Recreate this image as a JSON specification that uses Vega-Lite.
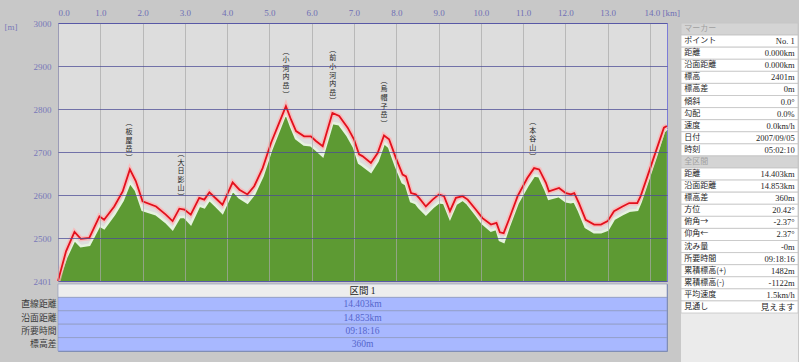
{
  "$schema": "https://vega.github.io/schema/vega-lite/v6.json",
  "padding": {"left": 3, "top": 0, "right": 0, "bottom": 0},
  "background": "#c8c8c8",
  "config": {"font": "Liberation Sans", "concat": {"spacing": 0}},
  "datasets": {
    "profile": [
      {"km": 0.00, "track": 2401, "terrain": 2401},
      {"km": 0.19, "track": 2470, "terrain": 2455},
      {"km": 0.39, "track": 2515, "terrain": 2497},
      {"km": 0.54, "track": 2499, "terrain": 2482},
      {"km": 0.74, "track": 2501, "terrain": 2485},
      {"km": 0.98, "track": 2551, "terrain": 2530},
      {"km": 1.09, "track": 2543, "terrain": 2524},
      {"km": 1.33, "track": 2574, "terrain": 2556},
      {"km": 1.53, "track": 2609, "terrain": 2588},
      {"km": 1.70, "track": 2660, "terrain": 2630},
      {"km": 1.84, "track": 2633, "terrain": 2612},
      {"km": 2.00, "track": 2586, "terrain": 2566},
      {"km": 2.32, "track": 2574, "terrain": 2556},
      {"km": 2.55, "track": 2555, "terrain": 2538},
      {"km": 2.71, "track": 2540, "terrain": 2522},
      {"km": 2.87, "track": 2569, "terrain": 2549},
      {"km": 2.99, "track": 2567, "terrain": 2550},
      {"km": 3.14, "track": 2555, "terrain": 2534},
      {"km": 3.34, "track": 2594, "terrain": 2576},
      {"km": 3.46, "track": 2590, "terrain": 2572},
      {"km": 3.58, "track": 2607, "terrain": 2590},
      {"km": 3.74, "track": 2592, "terrain": 2575},
      {"km": 3.89, "track": 2578, "terrain": 2560},
      {"km": 4.13, "track": 2630, "terrain": 2612},
      {"km": 4.29, "track": 2613, "terrain": 2595},
      {"km": 4.48, "track": 2602, "terrain": 2583},
      {"km": 4.64, "track": 2621, "terrain": 2603},
      {"km": 4.84, "track": 2663, "terrain": 2645},
      {"km": 5.04, "track": 2722, "terrain": 2705},
      {"km": 5.23, "track": 2768, "terrain": 2752},
      {"km": 5.39, "track": 2807, "terrain": 2792},
      {"km": 5.51, "track": 2776, "terrain": 2760},
      {"km": 5.63, "track": 2749, "terrain": 2732},
      {"km": 5.82, "track": 2737, "terrain": 2718},
      {"km": 5.98, "track": 2737, "terrain": 2716},
      {"km": 6.10, "track": 2726, "terrain": 2706},
      {"km": 6.26, "track": 2714, "terrain": 2692},
      {"km": 6.49, "track": 2791, "terrain": 2768},
      {"km": 6.65, "track": 2784, "terrain": 2765},
      {"km": 6.85, "track": 2757, "terrain": 2738},
      {"km": 7.00, "track": 2730, "terrain": 2712},
      {"km": 7.12, "track": 2695, "terrain": 2675},
      {"km": 7.20, "track": 2691, "terrain": 2670},
      {"km": 7.40, "track": 2675, "terrain": 2655},
      {"km": 7.56, "track": 2698, "terrain": 2680},
      {"km": 7.71, "track": 2739, "terrain": 2722},
      {"km": 7.83, "track": 2730, "terrain": 2712},
      {"km": 7.99, "track": 2687, "terrain": 2668},
      {"km": 8.15, "track": 2648, "terrain": 2630},
      {"km": 8.23, "track": 2644, "terrain": 2625},
      {"km": 8.35, "track": 2605, "terrain": 2586},
      {"km": 8.46, "track": 2602, "terrain": 2582},
      {"km": 8.54, "track": 2594, "terrain": 2572},
      {"km": 8.70, "track": 2574, "terrain": 2556},
      {"km": 8.86, "track": 2590, "terrain": 2572},
      {"km": 9.01, "track": 2602, "terrain": 2584},
      {"km": 9.13, "track": 2598, "terrain": 2582},
      {"km": 9.27, "track": 2563, "terrain": 2548},
      {"km": 9.41, "track": 2594, "terrain": 2580},
      {"km": 9.57, "track": 2598, "terrain": 2590},
      {"km": 9.69, "track": 2590, "terrain": 2580},
      {"km": 9.88, "track": 2567, "terrain": 2556},
      {"km": 10.04, "track": 2547, "terrain": 2535},
      {"km": 10.24, "track": 2532, "terrain": 2518},
      {"km": 10.37, "track": 2536, "terrain": 2522},
      {"km": 10.45, "track": 2514, "terrain": 2496},
      {"km": 10.54, "track": 2512, "terrain": 2492},
      {"km": 10.67, "track": 2545, "terrain": 2530},
      {"km": 10.87, "track": 2598, "terrain": 2582},
      {"km": 11.10, "track": 2640, "terrain": 2622},
      {"km": 11.26, "track": 2663, "terrain": 2646},
      {"km": 11.38, "track": 2660, "terrain": 2644},
      {"km": 11.54, "track": 2629, "terrain": 2610},
      {"km": 11.61, "track": 2609, "terrain": 2592},
      {"km": 11.85, "track": 2617, "terrain": 2598},
      {"km": 12.01, "track": 2605, "terrain": 2586},
      {"km": 12.13, "track": 2602, "terrain": 2584},
      {"km": 12.21, "track": 2605, "terrain": 2586},
      {"km": 12.32, "track": 2582, "terrain": 2564},
      {"km": 12.48, "track": 2543, "terrain": 2526},
      {"km": 12.68, "track": 2532, "terrain": 2514},
      {"km": 12.84, "track": 2532, "terrain": 2514},
      {"km": 13.00, "track": 2540, "terrain": 2520},
      {"km": 13.15, "track": 2563, "terrain": 2545},
      {"km": 13.35, "track": 2574, "terrain": 2556},
      {"km": 13.51, "track": 2582, "terrain": 2564},
      {"km": 13.70, "track": 2582, "terrain": 2566},
      {"km": 13.78, "track": 2598, "terrain": 2585},
      {"km": 13.94, "track": 2644, "terrain": 2632},
      {"km": 14.14, "track": 2702, "terrain": 2690},
      {"km": 14.33, "track": 2757, "terrain": 2748},
      {"km": 14.40, "track": 2761, "terrain": 2755}
    ],
    "peaks": [
      {"km": 1.68, "elev": 2660, "name": ["︵", "板", "屋", "岳", "︶"]},
      {"km": 2.91, "elev": 2569, "name": ["︵", "大", "日", "影", "山", "︶"]},
      {"km": 5.39, "elev": 2807, "name": ["︵", "小", "河", "内", "岳", "︶"]},
      {"km": 6.50, "elev": 2791, "name": ["︵", "前", "小", "河", "内", "岳", "︶"]},
      {"km": 7.71, "elev": 2739, "name": ["︵", "烏", "帽", "子", "岳", "︶"]},
      {"km": 11.23, "elev": 2663, "name": ["︵", "本", "谷", "山", "︶"]}
    ],
    "section": [
      {"label": "", "value": "区間 1", "kind": "header"},
      {"label": "直線距離", "value": "14.403km", "kind": "row"},
      {"label": "沿面距離", "value": "14.853km", "kind": "row"},
      {"label": "所要時間", "value": "09:18:16", "kind": "row"},
      {"label": "標高差", "value": "360m", "kind": "row"}
    ],
    "panel": [
      {"i": 0, "k": "マーカー", "v": "", "kind": "header"},
      {"i": 1, "k": "ポイント", "v": "No. 1", "kind": "row"},
      {"i": 2, "k": "距離", "v": "0.000km", "kind": "row"},
      {"i": 3, "k": "沿面距離", "v": "0.000km", "kind": "row"},
      {"i": 4, "k": "標高", "v": "2401m", "kind": "row"},
      {"i": 5, "k": "標高差", "v": "0m", "kind": "row"},
      {"i": 6, "k": "傾斜", "v": "0.0°", "kind": "row"},
      {"i": 7, "k": "勾配", "v": "0.0%", "kind": "row"},
      {"i": 8, "k": "速度", "v": "0.0km/h", "kind": "row"},
      {"i": 9, "k": "日付", "v": "2007/09/05", "kind": "row"},
      {"i": 10, "k": "時刻", "v": "05:02:10", "kind": "row"},
      {"i": 11, "k": "全区間", "v": "", "kind": "header"},
      {"i": 12, "k": "距離", "v": "14.403km", "kind": "row"},
      {"i": 13, "k": "沿面距離", "v": "14.853km", "kind": "row"},
      {"i": 14, "k": "標高差", "v": "360m", "kind": "row"},
      {"i": 15, "k": "方位", "v": "20.42°", "kind": "row"},
      {"i": 16, "k": "俯角→", "v": "-2.37°", "kind": "row"},
      {"i": 17, "k": "仰角←", "v": "2.37°", "kind": "row"},
      {"i": 18, "k": "沈み量", "v": "-0m", "kind": "row"},
      {"i": 19, "k": "所要時間", "v": "09:18:16", "kind": "row"},
      {"i": 20, "k": "累積標高(+)", "v": "1482m", "kind": "row"},
      {"i": 21, "k": "累積標高(-)", "v": "-1122m", "kind": "row"},
      {"i": 22, "k": "平均速度", "v": "1.5km/h", "kind": "row"},
      {"i": 23, "k": "見通し", "v": "見えます", "kind": "row"}
    ]
  },
  "hconcat": [
    {
      "vconcat": [
        {
          "width": 609,
          "height": 258,
          "view": {"fill": "#dddddd", "stroke": "#7c7cd8"},
          "layer": [
            {
              "data": {"name": "profile"},
              "mark": {"type": "area", "color": "#5d9a33", "opacity": 1, "clip": true},
              "encoding": {
                "x": {
                  "field": "km", "type": "quantitative",
                  "scale": {"domain": [0, 14.403], "nice": false, "zero": false},
                  "axis": {
                    "orient": "top", "values": [0,1,2,3,4,5,6,7,8,9,10,11,12,13,14],
                    "labelExpr": "datum.value == 14 ? '14.0 [km]' : format(datum.value, '.1f')",
                    "labelAlign": {"condition": {"test": "datum.value == 0 || datum.value == 14", "value": "left"}, "value": "center"},
                    "labelOffset": {"condition": {"test": "datum.value == 14", "value": -6}, "value": 0},
                    "labelPadding": 6, "labelBaseline": "bottom",
                    "labelFont": "Liberation Serif", "labelFontSize": 9, "labelColor": "#6f6fb5",
                    "labelOverlap": false, "labelFlush": false,
                    "ticks": false, "domain": false,
                    "grid": true, "gridColor": "#a8a8a8", "gridOpacity": 0.7, "zindex": 1,
                    "title": null, "minExtent": 22, "maxExtent": 22
                  }
                },
                "y": {
                  "field": "terrain", "type": "quantitative",
                  "scale": {"domain": [2401, 3000], "nice": false, "zero": false},
                  "axis": {
                    "values": [2401, 2500, 2600, 2700, 2800, 2900, 3000], "format": "d",
                    "labelFont": "Liberation Serif", "labelFontSize": 9, "labelColor": "#7878b8",
                    "labelPadding": 7, "ticks": false, "domain": false,
                    "grid": true, "gridColor": "#4c4c96", "gridOpacity": 0.75, "zindex": 1,
                    "title": "[m]", "titleAngle": 0, "titleX": -54, "titleY": 3,
                    "titleAlign": "left", "titleBaseline": "middle",
                    "titleFont": "Liberation Serif", "titleFontSize": 9, "titleFontWeight": "normal",
                    "titleColor": "#7878b8"
                  }
                },
                "y2": {"datum": 2401}
              }
            },
            {
              "data": {"name": "profile"},
              "mark": {"type": "line", "color": "#e6f2e0", "strokeWidth": 2.5},
              "encoding": {
                "x": {"field": "km", "type": "quantitative"},
                "y": {"field": "terrain", "type": "quantitative"}
              }
            },
            {
              "data": {"name": "profile"},
              "mark": {"type": "line", "color": "#ffb0b0", "strokeWidth": 5, "opacity": 0.7},
              "encoding": {
                "x": {"field": "km", "type": "quantitative"},
                "y": {"field": "track", "type": "quantitative"}
              }
            },
            {
              "data": {"name": "profile"},
              "mark": {"type": "line", "color": "#e3101c", "strokeWidth": 1.8},
              "encoding": {
                "x": {"field": "km", "type": "quantitative"},
                "y": {"field": "track", "type": "quantitative"}
              }
            },
            {
              "data": {"name": "peaks"},
              "mark": {"type": "text", "font": "Noto Sans CJK JP", "fontSize": 7, "lineHeight": 8.6, "baseline": "top",
                       "dy": {"expr": "-7 - length(datum.name) * 8.6"}, "color": "#1a1a1a"},
              "encoding": {
                "x": {"field": "km", "type": "quantitative"},
                "y": {"field": "elev", "type": "quantitative"},
                "text": {"field": "name"}
              }
            }
          ]
        },
        {
          "width": 609,
          "height": 67,
          "data": {"name": "section"},
          "view": {"stroke": "#7c8cb4"},
          "encoding": {
            "y": {
              "field": "label", "type": "nominal", "sort": null,
              "scale": {"paddingInner": 0, "paddingOuter": 0},
              "axis": {"title": null, "ticks": false, "domain": false, "labelPadding": 2,
                       "labelFont": "Noto Sans CJK JP", "labelFontSize": 8.8, "labelColor": "#3a3a3a"}
            }
          },
          "layer": [
            {
              "mark": {"type": "rect", "stroke": "#8a96b8", "strokeWidth": 0.6},
              "encoding": {
                "fill": {"condition": {"test": "datum.kind === 'header'", "value": "#ededed"}, "value": "#a8b8ff"}
              }
            },
            {
              "mark": {"type": "text", "font": "Liberation Serif, Noto Sans CJK JP", "fontSize": 9.5},
              "encoding": {
                "text": {"field": "value"},
                "color": {"condition": {"test": "datum.kind === 'header'", "value": "#222222"}, "value": "#5566cc"}
              }
            }
          ]
        }
      ],
      "spacing": 3,
      "bounds": "flush"
    },
    {
      "width": 117,
      "height": 362,
      "data": {"name": "panel"},
      "view": {"fill": "#ebebeb", "stroke": null},
      "encoding": {
        "y": {"field": "i", "type": "ordinal", "axis": null,
              "scale": {"range": [0, 290], "paddingInner": 0, "paddingOuter": 0}}
      },
      "layer": [
        {
          "mark": {"type": "rect", "stroke": "#c4c4c4", "strokeWidth": 0.8},
          "encoding": {
            "fill": {"condition": {"test": "datum.kind === 'header'", "value": "#d4d4d4"}, "value": "#ffffff"}
          }
        },
        {
          "mark": {"type": "text", "align": "left", "font": "Noto Sans CJK JP", "fontSize": 8},
          "encoding": {
            "x": {"datum": "label", "type": "nominal", "axis": null,
                  "scale": {"type": "point", "domain": ["label", "value"], "padding": 0.03}},
            "text": {"field": "k"},
            "color": {"condition": {"test": "datum.kind === 'header'", "value": "#a0a0a0"}, "value": "#1e1e1e"}
          }
        },
        {
          "mark": {"type": "text", "align": "right", "font": "Liberation Serif, Noto Sans CJK JP", "fontSize": 8.5, "color": "#1e1e1e"},
          "encoding": {
            "x": {"datum": "value", "type": "nominal", "axis": null},
            "text": {"field": "v"}
          }
        }
      ]
    }
  ]
}
